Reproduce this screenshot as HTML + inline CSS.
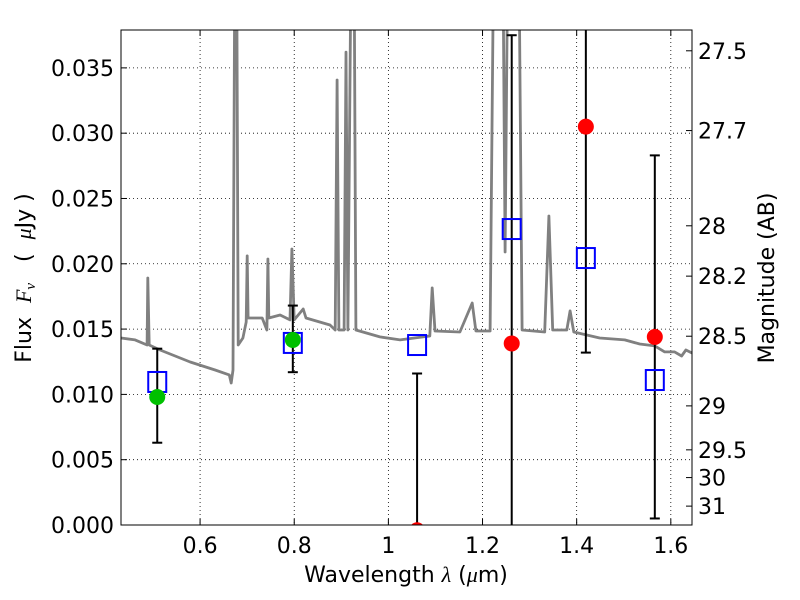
<!DOCTYPE html>
<html><head><meta charset="utf-8"><style>
html,body{margin:0;padding:0;background:#fff;overflow:hidden;width:800px;height:600px;}
svg{display:block;}
svg text{font-family:"DejaVu Sans","Liberation Sans",sans-serif;fill:#000;}
</style></head><body>
<svg id="chart" width="800" height="600" xmlns="http://www.w3.org/2000/svg">
<g id="grid"></g>
<g id="spec"></g>
<g id="marks"></g>
<path fill="#fff" fill-rule="evenodd" d="M0,0H800V600H0Z M121,30V525H692V30Z"/>
<rect x="121" y="30" width="571" height="495" fill="none" stroke="#000" stroke-width="1"/>
<g id="axes"></g>
<text x="406" y="582" font-size="22" text-anchor="middle">Wavelength  <tspan font-style="italic" font-family="Liberation Serif">λ</tspan> (<tspan font-style="italic" font-family="Liberation Serif">μ</tspan>m)</text>
<text transform="translate(31,278) rotate(-90)" font-size="22" text-anchor="middle" xml:space="preserve">Flux  <tspan font-style="italic" font-family="Liberation Serif">F</tspan><tspan font-style="italic" font-family="Liberation Serif" font-size="15" dy="4">ν</tspan><tspan dy="-4">   (  </tspan><tspan font-style="italic" font-family="Liberation Serif">μ</tspan>Jy )</text>
<text transform="translate(774,278) rotate(-90)" font-size="22" text-anchor="middle">Magnitude (AB)</text>
</svg>
<script>
const specWave=[0.432,0.462,0.4875,0.489,0.492,0.515,0.579,0.632,0.662,0.666,0.670,0.674,0.6775,0.681,0.691,0.698,0.700,0.702,0.732,0.742,0.744,0.746,0.770,0.791,0.795,0.800,0.819,0.825,0.876,0.887,0.891,0.895,0.906,0.910,0.914,0.921,0.927,0.931,0.982,1.025,1.088,1.093,1.099,1.152,1.178,1.186,1.216,1.224,1.243,1.248,1.254,1.277,1.284,1.332,1.341,1.349,1.379,1.386,1.394,1.449,1.502,1.534,1.566,1.587,1.608,1.623,1.632,1.645];
const specFlux=[0.01432,0.01417,0.01378,0.01891,0.01378,0.0134,0.01248,0.01187,0.01149,0.01087,0.01187,0.045,0.045,0.01378,0.01432,0.01554,0.0206,0.01585,0.01585,0.01493,0.02037,0.01585,0.01608,0.0157,0.02113,0.0157,0.01654,0.01585,0.01531,0.01493,0.03407,0.01493,0.01493,0.0362,0.01493,0.045,0.045,0.01493,0.0144,0.01417,0.01447,0.01815,0.01485,0.01478,0.017,0.01485,0.01485,0.045,0.045,0.0209,0.045,0.045,0.01493,0.01478,0.02366,0.01493,0.01493,0.01639,0.01478,0.01432,0.01417,0.01386,0.01371,0.01325,0.01325,0.01294,0.0134,0.01317];
const modelWave=[0.509,0.797,1.061,1.262,1.4195,1.566];
const modelFlux=[0.01095,0.01394,0.01378,0.02266,0.02044,0.0111];
const obsWave=[0.509,0.797,1.061,1.262,1.4195,1.566];
const obsFlux=[0.0098,0.01417,-0.0004,0.0139,0.0305,0.0144];
const obsType=["green","green","red","red","red","red"];
const errWave=[0.509,0.797,1.061,1.262,1.4195,1.566];
const errCenter=[0.0099,0.01425,0.0,0.0139,0.0305,0.0144];
const errSize=[0.0036,0.00255,0.0116,0.0236,0.0173,0.0139];
const xTicks=[0.6,0.8,1.0,1.2,1.4,1.6];
const xTickLabels=["0.6","0.8","1","1.2","1.4","1.6"];
const yTicks=[0,0.005,0.01,0.015,0.02,0.025,0.03,0.035];
const yTickLabels=["0.000","0.005","0.010","0.015","0.020","0.025","0.030","0.035"];
const magTicks=[27.5,27.7,28,28.2,28.5,29,29.5,30,31];

const X0=121,X1=692,Y0=525,Y1=30,XMIN=0.432,XMAX=1.645,YMIN=0,YMAX=0.0379;
const sx=v=>X0+(v-XMIN)/(XMAX-XMIN)*(X1-X0);
const sy=v=>Y0-(v-YMIN)/(YMAX-YMIN)*(Y0-Y1);
const NS="http://www.w3.org/2000/svg";
function mk(tag,attrs,parent){const e=document.createElementNS(NS,tag);for(const k in attrs)e.setAttribute(k,attrs[k]);parent.appendChild(e);return e;}
const grid=document.getElementById('grid'),axes=document.getElementById('axes'),spec=document.getElementById('spec'),marks=document.getElementById('marks');
xTicks.forEach((t,i)=>{const x=sx(t);
 const g=mk('line',{x1:x,x2:x,y1:Y1,y2:Y0,stroke:'#000','stroke-dasharray':'1,3','stroke-width':0.8},grid);
 
 mk('line',{x1:x,x2:x,y1:Y0,y2:Y0-6,stroke:'#000'},axes);mk('line',{x1:x,x2:x,y1:Y1,y2:Y1+6,stroke:'#000'},axes);
 const tx=mk('text',{x:x,y:Y0+28,'font-size':22,'text-anchor':'middle'},axes);tx.textContent=xTickLabels[i];
 });
yTicks.forEach((t,i)=>{const y=sy(t);
 if(t>0){const g=mk('line',{x1:X0,x2:X1,y1:y,y2:y,stroke:'#000','stroke-dasharray':'1,3','stroke-width':0.8},grid);
 }
 mk('line',{x1:X0,x2:X0+6,y1:y,y2:y,stroke:'#000'},axes);
 const tx=mk('text',{x:X0-7,y:y+8,'font-size':22,'text-anchor':'end'},axes);tx.textContent=yTickLabels[i];
 });
magTicks.forEach(m=>{const f=Math.pow(10,(23.9-m)/2.5);const y=sy(f);
 mk('line',{x1:X1,x2:X1-6,y1:y,y2:y,stroke:'#000'},axes);
 const tx=mk('text',{x:X1+6,y:y+8,'font-size':22},axes);tx.textContent=String(m);
 });
const pts=specWave.map((w,i)=>sx(w).toFixed(1)+','+sy(specFlux[i]).toFixed(1)).join(' ');
const pl=mk('polyline',{points:pts,fill:'none',stroke:'#808080','stroke-width':2.8,'stroke-linejoin':'round'},spec);

errWave.forEach((w,i)=>{const x=sx(w),top=sy(errCenter[i]+errSize[i]),bot=sy(errCenter[i]-errSize[i]);
 const g=mk('g',{},marks);
 
 mk('line',{x1:x,x2:x,y1:top,y2:bot,stroke:'#000','stroke-width':2},g);
 mk('line',{x1:x-5,x2:x+5,y1:top,y2:top,stroke:'#000','stroke-width':2},g);
 mk('line',{x1:x-5,x2:x+5,y1:bot,y2:bot,stroke:'#000','stroke-width':2},g);});
modelWave.forEach((w,i)=>{const r=mk('rect',{x:sx(w)-9,y:sy(modelFlux[i])-10,width:18,height:20,fill:'none',stroke:'#0000ff','stroke-width':2},marks);
 });
obsWave.forEach((w,i)=>{const c=mk('circle',{cx:sx(w),cy:sy(obsFlux[i]),r:8,fill:obsType[i]==='green'?'#00c000':'#ff0000'},marks);
 });
</script>
</body></html>
